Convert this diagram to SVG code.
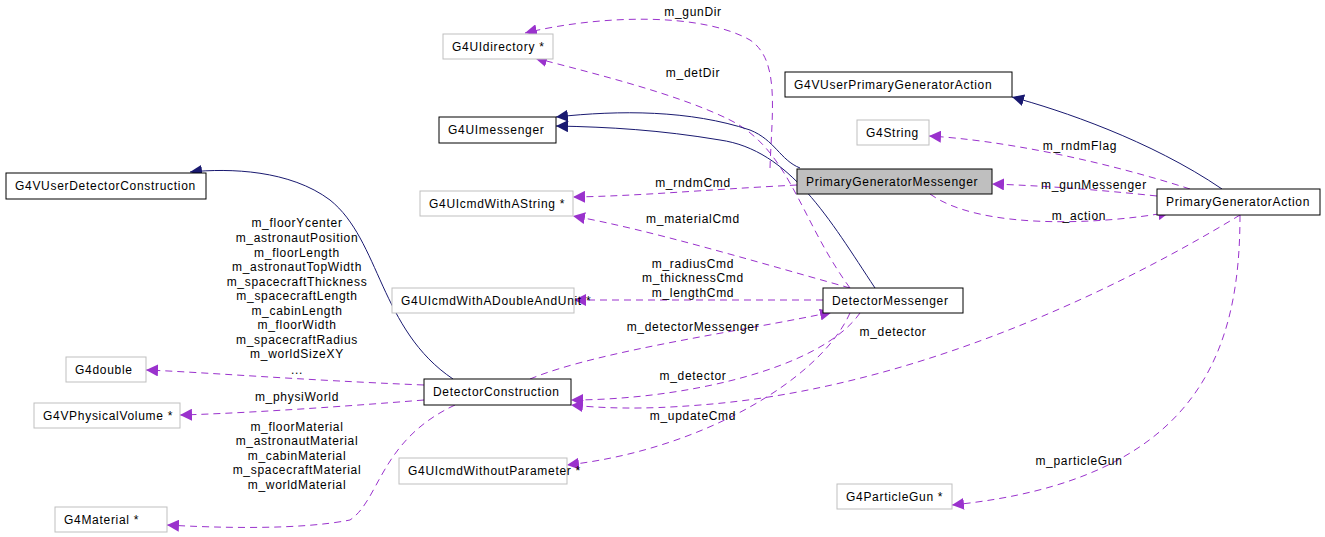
<svg xmlns="http://www.w3.org/2000/svg" width="1325" height="537" viewBox="0 0 1325 537">
<style>
text{font-family:"Liberation Sans",Arial,sans-serif;font-size:12px;letter-spacing:0.7px;fill:#000}
.n rect{fill:#fff;stroke:#000;stroke-width:1}
.g rect{fill:#fff;stroke:#bfbfbf;stroke-width:1}
.e{fill:none;stroke:#9a32cd;stroke-dasharray:7,5;stroke-width:1}
.i{fill:none;stroke:#191970;stroke-width:1}
.l{text-anchor:middle}
</style>
<defs>
<marker id="pa" viewBox="0 0 10 10" refX="10" refY="5" markerWidth="12" markerHeight="12" markerUnits="userSpaceOnUse" orient="auto"><path d="M0,0L10,5L0,10z" fill="#9a32cd"/></marker>
<marker id="na" viewBox="0 0 10 10" refX="10" refY="5" markerWidth="12" markerHeight="12" markerUnits="userSpaceOnUse" orient="auto"><path d="M0,0L10,5L0,10z" fill="#191970"/></marker>
</defs>
<rect width="1325" height="537" fill="#fff"/>
<g id="edges">
<path class="e" marker-end="url(#pa)" d="M770,168 C772,110 780,60 750,40 C700,12 600,15 525,33"/>
<path class="e" marker-end="url(#pa)" d="M850,288 C800,220 790,150 730,120 C680,95 600,75 535,58"/>
<path class="i" marker-end="url(#na)" d="M800,168 C780,160 775,140 750,130 C690,110 620,110 556,117"/>
<path class="i" marker-end="url(#na)" d="M875,288 C830,220 790,150 720,140 C660,130 610,127 556,126"/>
<path class="i" marker-end="url(#na)" d="M1222,189 C1150,140 1060,110 1012,97"/>
<path class="i" marker-end="url(#na)" d="M453,379 C380,330 380,240 330,200 C290,170 230,168 190,172"/>
<path class="e" marker-end="url(#pa)" d="M1190,189 C1100,160 1000,140 929,136"/>
<path class="e" marker-end="url(#pa)" d="M1157,196 C1100,190 1050,186 992,184"/>
<path class="e" marker-end="url(#pa)" d="M930,194 C980,230 1100,225 1170,212"/>
<path class="e" marker-end="url(#pa)" d="M797,185 C700,190 640,196 573,197"/>
<path class="e" marker-end="url(#pa)" d="M850,288 C750,260 650,230 573,216"/>
<path class="e" marker-end="url(#pa)" d="M823,300 L574,300"/>
<path class="e" marker-end="url(#pa)" d="M530,379 C600,350 750,330 832,312"/>
<path class="e" marker-end="url(#pa)" d="M860,313 C820,370 680,400 571,400"/>
<path class="e" marker-end="url(#pa)" d="M1240,215 C1100,300 900,390 700,405 C640,410 600,408 571,405"/>
<path class="e" marker-end="url(#pa)" d="M850,313 C820,380 700,450 567,465"/>
<path class="e" marker-end="url(#pa)" d="M1240,215 C1240,350 1200,480 952,505"/>
<path class="e" marker-end="url(#pa)" d="M424,385 C300,380 200,372 146,370"/>
<path class="e" marker-end="url(#pa)" d="M424,400 C300,410 220,414 180,415"/>
<path class="e" marker-end="url(#pa)" d="M455,405 C380,440 380,500 350,520 C300,530 220,528 167,525"/>
<g class="l">
<text x="693" y="16">m_gunDir</text>
<text x="693" y="77">m_detDir</text>
<text x="1080" y="150">m_rndmFlag</text>
<text x="1094" y="189">m_gunMessenger</text>
<text x="1079" y="220">m_action</text>
<text x="693" y="187">m_rndmCmd</text>
<text x="693" y="223">m_materialCmd</text>
<text x="693" y="268">m_radiusCmd</text>
<text x="693" y="282">m_thicknessCmd</text>
<text x="693" y="297">m_lengthCmd</text>
<text x="693" y="331">m_detectorMessenger</text>
<text x="893" y="336">m_detector</text>
<text x="693" y="380">m_detector</text>
<text x="693" y="420">m_updateCmd</text>
<text x="1079" y="465">m_particleGun</text>
<text x="297" y="227">m_floorYcenter</text>
<text x="297" y="242">m_astronautPosition</text>
<text x="297" y="257">m_floorLength</text>
<text x="297" y="271">m_astronautTopWidth</text>
<text x="297" y="286">m_spacecraftThickness</text>
<text x="297" y="300">m_spacecraftLength</text>
<text x="297" y="315">m_cabinLength</text>
<text x="297" y="329">m_floorWidth</text>
<text x="297" y="344">m_spacecraftRadius</text>
<text x="297" y="358">m_worldSizeXY</text>
<text x="297" y="374">...</text>
<text x="297" y="401">m_physiWorld</text>
<text x="297" y="431">m_floorMaterial</text>
<text x="297" y="445">m_astronautMaterial</text>
<text x="297" y="460">m_cabinMaterial</text>
<text x="297" y="474">m_spacecraftMaterial</text>
<text x="297" y="489">m_worldMaterial</text>
</g>
</g>
<g id="G4UIdirectory" class="g"><rect x="443" y="34" width="110" height="25"/><text x="452" y="51">G4UIdirectory *</text></g>
<g id="G4VUserPrimaryGeneratorAction" class="n"><rect x="785" y="72" width="227" height="25"/><text x="794" y="89">G4VUserPrimaryGeneratorAction</text></g>
<g id="G4UImessenger" class="n"><rect x="439" y="117" width="117" height="26"/><text x="448" y="134">G4UImessenger</text></g>
<g id="G4String" class="g"><rect x="857" y="120" width="72" height="25"/><text x="866" y="137">G4String</text></g>
<g id="G4VUserDetectorConstruction" class="n"><rect x="6" y="173" width="200" height="26"/><text x="15" y="190">G4VUserDetectorConstruction</text></g>
<g id="PrimaryGeneratorMessenger" class="n"><rect x="797" y="169" width="195" height="25" style="fill:#bfbfbf"/><text x="806" y="186">PrimaryGeneratorMessenger</text></g>
<g id="G4UIcmdWithAString" class="g"><rect x="420" y="191" width="153" height="25"/><text x="429" y="208">G4UIcmdWithAString *</text></g>
<g id="PrimaryGeneratorAction" class="n"><rect x="1157" y="189" width="163" height="26"/><text x="1166" y="206">PrimaryGeneratorAction</text></g>
<g id="G4UIcmdWithADoubleAndUnit" class="g"><rect x="392" y="288" width="182" height="25"/><text x="401" y="305">G4UIcmdWithADoubleAndUnit *</text></g>
<g id="DetectorMessenger" class="n"><rect x="823" y="288" width="140" height="25"/><text x="832" y="305">DetectorMessenger</text></g>
<g id="G4double" class="g"><rect x="66" y="357" width="80" height="25"/><text x="75" y="374">G4double</text></g>
<g id="DetectorConstruction" class="n"><rect x="424" y="379" width="147" height="26"/><text x="433" y="396">DetectorConstruction</text></g>
<g id="G4VPhysicalVolume" class="g"><rect x="34" y="403" width="146" height="25"/><text x="43" y="420">G4VPhysicalVolume *</text></g>
<g id="G4UIcmdWithoutParameter" class="g"><rect x="399" y="458" width="168" height="26"/><text x="408" y="475">G4UIcmdWithoutParameter *</text></g>
<g id="G4ParticleGun" class="g"><rect x="837" y="484" width="115" height="25"/><text x="846" y="501">G4ParticleGun *</text></g>
<g id="G4Material" class="g"><rect x="55" y="507" width="112" height="25"/><text x="64" y="524">G4Material *</text></g>
</svg>
